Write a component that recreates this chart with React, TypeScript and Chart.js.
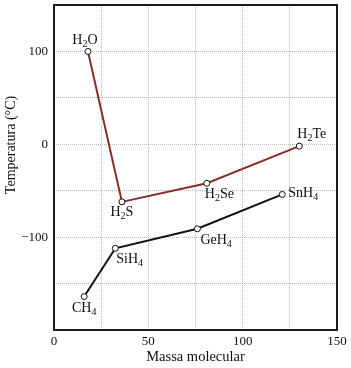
import React, { useEffect, useRef } from 'react';
import { Chart, registerables } from 'chart.js';

Chart.register(...registerables);

// Data
const hydrideMass = [18, 36, 81, 130];
const hydrideBp = [100, -62, -42, -2];
const hydrideNames = ['H_2O', 'H_2S', 'H_2Se', 'H_2Te'];

const groupMass = [16, 32.5, 76, 121];
const groupBp = [-164, -112, -91, -54];
const groupNames = ['CH_4', 'SiH_4', 'GeH_4', 'SnH_4'];

const xTickValues = [0, 50, 100, 150];
const xTickLabels = ['0', '50', '100', '150'];
const yTickValues = [100, 0, -100];
const yTickLabels = ['100', '0', '\u2212100'];

const xTitle = 'Massa molecular';
const yTitle = 'Temperatura (\u00B0C)';

// Label placement (style, not data): offsets from the point
const hydridePlace = [
  { dx: -3, dy: -7, align: 'center' },
  { dx: 0, dy: 14, align: 'center' },
  { dx: -2, dy: 15, align: 'left' },
  { dx: -2, dy: -8, align: 'left' },
];
const groupPlace = [
  { dx: 0, dy: 15, align: 'center' },
  { dx: 1, dy: 15, align: 'left' },
  { dx: 3, dy: 15, align: 'left' },
  { dx: 6, dy: 3, align: 'left' },
];

const FONT = "'Liberation Serif', 'Times New Roman', serif";

function parseLabel(s: string) {
  const parts: { t: string; sub: boolean }[] = [];
  let i = 0;
  while (i < s.length) {
    if (s[i] === '_') {
      parts.push({ t: s[i + 1], sub: true });
      i += 2;
    } else {
      let j = i;
      while (j < s.length && s[j] !== '_') j++;
      parts.push({ t: s.slice(i, j), sub: false });
      i = j;
    }
  }
  return parts;
}

const labelPlugin = {
  id: 'pointLabels',
  afterDatasetsDraw(chart: any) {
    const ctx = chart.ctx;
    const sets = [
      { names: hydrideNames, place: hydridePlace },
      { names: groupNames, place: groupPlace },
    ];
    ctx.save();
    ctx.fillStyle = '#111';
    ctx.textBaseline = 'alphabetic';
    ctx.textAlign = 'left';
    sets.forEach((s, di) => {
      const meta = chart.getDatasetMeta(di);
      meta.data.forEach((pt: any, i: number) => {
        const parts = parseLabel(s.names[i]);
        const p = s.place[i];
        let w = 0;
        parts.forEach((pp) => {
          ctx.font = pp.sub ? `10px ${FONT}` : `14px ${FONT}`;
          w += ctx.measureText(pp.t).width;
        });
        let x = pt.x + p.dx;
        if (p.align === 'center') x -= w / 2;
        const y = pt.y + p.dy;
        parts.forEach((pp) => {
          ctx.font = pp.sub ? `10px ${FONT}` : `14px ${FONT}`;
          ctx.fillText(pp.t, x, pp.sub ? y + 3 : y);
          x += ctx.measureText(pp.t).width;
        });
      });
    });
    // y-axis title
    ctx.font = `14px ${FONT}`;
    ctx.textAlign = 'center';
    ctx.textBaseline = 'alphabetic';
    ctx.translate(15, 145);
    ctx.rotate(-Math.PI / 2);
    ctx.fillText(yTitle, 0, 0);
    ctx.restore();
  },
};

const framePlugin = {
  id: 'frame',
  afterDatasetsDraw(chart: any) {
    const { ctx, chartArea: a } = chart;
    ctx.save();
    ctx.strokeStyle = '#1a1a1a';
    ctx.lineWidth = 2;
    ctx.strokeRect(a.left, a.top, a.right - a.left, a.bottom - a.top);
    ctx.restore();
  },
};

export default function App() {
  const ref = useRef<HTMLCanvasElement | null>(null);

  useEffect(() => {
    document.body.style.margin = '0';
    document.body.style.background = '#fff';
    if (!ref.current) return;
    const pointStyle = {
      pointRadius: 3,
      pointBackgroundColor: '#fff',
      pointBorderColor: '#111',
      pointBorderWidth: 1,
    };
    const chart = new Chart(ref.current, {
      type: 'line',
      data: {
        datasets: [
          {
            data: hydrideMass.map((m, i) => ({ x: m, y: hydrideBp[i] })),
            borderColor: '#8a2c2c',
            borderWidth: 2,
            ...pointStyle,
          },
          {
            data: groupMass.map((m, i) => ({ x: m, y: groupBp[i] })),
            borderColor: '#111',
            borderWidth: 2,
            ...pointStyle,
          },
        ],
      },
      options: {
        responsive: false,
        maintainAspectRatio: false,
        animation: false,
        layout: { padding: { top: 5, right: 14, left: 0, bottom: 0 } },
        plugins: { legend: { display: false }, tooltip: { enabled: false } },
        scales: {
          x: {
            type: 'linear',
            min: 0,
            max: 150,
            afterFit: (s: any) => {
              s.height = 38;
              s.paddingLeft = 0;
              s.paddingRight = 0;
            },
            ticks: {
              stepSize: 25,
              padding: 4,
              color: '#111',
              font: { family: FONT, size: 13 },
              maxRotation: 0,
              callback: (v: any) => {
                const k = xTickValues.indexOf(Number(v));
                return k >= 0 ? xTickLabels[k] : '';
              },
            },
            grid: { color: 'rgba(140,140,140,0.6)', drawTicks: false, lineWidth: 1 },
            border: { display: false, dash: [1, 1] },
            title: {
              display: true,
              text: xTitle,
              color: '#111',
              font: { family: FONT, size: 14.5 },
              padding: 2,
            },
          },
          y: {
            type: 'linear',
            min: -200,
            max: 150,
            afterFit: (s: any) => {
              s.width = 54;
              s.paddingTop = 0;
              s.paddingBottom = 0;
            },
            ticks: {
              stepSize: 50,
              padding: 6,
              color: '#111',
              font: { family: FONT, size: 13 },
              callback: (v: any) => {
                const k = yTickValues.indexOf(Number(v));
                return k >= 0 ? yTickLabels[k] : '';
              },
            },
            grid: { color: 'rgba(140,140,140,0.6)', drawTicks: false, lineWidth: 1 },
            border: { display: false, dash: [1, 1] },
            title: { display: false },
          },
        },
      },
      plugins: [labelPlugin, framePlugin],
    } as any);
    return () => chart.destroy();
  }, []);

  return (
    <div style={{ width: 351, height: 368 }}>
      <canvas ref={ref} width={351} height={368} />
    </div>
  );
}
